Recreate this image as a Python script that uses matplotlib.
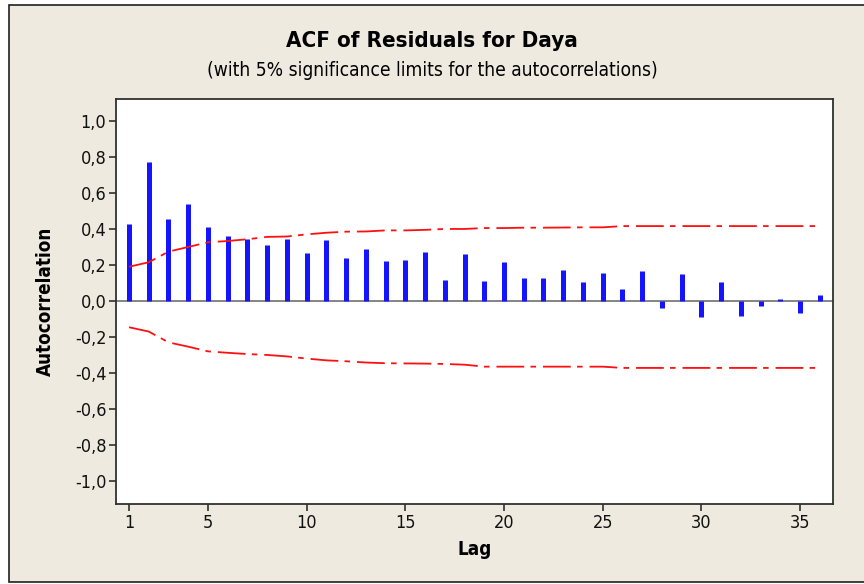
import numpy as np
import matplotlib.pyplot as plt
from matplotlib.patches import Rectangle

plt.rcParams['font.family'] = 'DejaVu Sans'
plt.rcParams['font.stretch'] = 'condensed'
plt.rcParams['lines.scale_dashes'] = False

# autocorrelation of the residuals, lags 1..36
lags = list(range(1, 37))
acf = [0.43, 0.77, 0.456, 0.54, 0.41, 0.36, 0.343, 0.31, 0.344, 0.267, 0.34, 0.239,
       0.289, 0.22, 0.229, 0.27, 0.117, 0.259, 0.109, 0.217, 0.13, 0.13, 0.17, 0.106,
       0.154, 0.068, 0.168, -0.04, 0.15, -0.09, 0.107, -0.085, -0.028, 0.012, -0.068, 0.035]

# 5% significance limits
upper = [0.19, 0.215, 0.274, 0.30, 0.326, 0.333, 0.343, 0.356, 0.358, 0.37, 0.379, 0.385,
         0.386, 0.392, 0.392, 0.395, 0.40, 0.40, 0.405, 0.405, 0.407, 0.407, 0.408, 0.409,
         0.409, 0.416, 0.416, 0.416, 0.416, 0.416, 0.416, 0.416, 0.416, 0.416, 0.416, 0.416]
lower = [-0.146, -0.17, -0.23, -0.254, -0.28, -0.288, -0.295, -0.30, -0.308, -0.32, -0.33, -0.335,
         -0.342, -0.346, -0.347, -0.348, -0.35, -0.354, -0.365, -0.365, -0.365, -0.365, -0.365, -0.365,
         -0.365, -0.372, -0.372, -0.372, -0.372, -0.372, -0.372, -0.372, -0.372, -0.372, -0.372, -0.372]

xticks = [1, 5, 10, 15, 20, 25, 30, 35]
yticks = np.round(np.arange(-1.0, 1.01, 0.2), 1)
ytick_labels = [("%.1f" % v).replace(".", ",").replace("-0,0", "0,0") for v in yticks]

fig = plt.figure(figsize=(8.64, 5.84), dpi=100, facecolor='white')

# beige panel with a thin dark frame
fig.patches.append(Rectangle((9 / 864, 2 / 584), 1.0, 577 / 584, transform=fig.transFigure,
                             facecolor='#eeeae0', edgecolor='#202020', linewidth=1.2, zorder=-1))

ax = fig.add_axes([116 / 864, 1 - 504 / 584, 717 / 864, 405 / 584])
ax.set_facecolor('white')

ax.axhline(0, color='#707070', linewidth=1.2, zorder=1)
ax.vlines(lags, 0, acf, colors='#1414ff', linewidth=3.6, capstyle='butt', zorder=2)
ax.plot(lags, upper, color='#ff1010', linewidth=1.3, dashes=(20, 4.5, 4, 5), zorder=3)
ax.plot(lags, lower, color='#ff1010', linewidth=1.3, dashes=(20, 4.5, 4, 5), zorder=3)

ax.set_xlim(0.34, 36.67)
ax.set_ylim(-1.128, 1.122)
ax.set_xticks(xticks)
ax.set_yticks(yticks)
ax.set_yticklabels(ytick_labels)
ax.tick_params(axis='both', direction='out', length=5, width=1.2, color='#303030',
               labelsize=13, labelcolor='#111111', pad=2)
for s in ax.spines.values():
    s.set_color('#303030')
    s.set_linewidth(1.3)

ax.set_xlabel('Lag', fontsize=13.5, fontweight='bold', labelpad=6)
ax.set_ylabel('Autocorrelation', fontsize=13.5, fontweight='bold', labelpad=14)

fig.text(0.5, 1 - 41 / 584, 'ACF of Residuals for Daya', ha='center', va='center',
         fontsize=16, fontweight='bold')
fig.text(0.5, 1 - 70 / 584, '(with 5% significance limits for the autocorrelations)',
         ha='center', va='center', fontsize=13.8)

fig.savefig('out.png', dpi=100, facecolor=fig.get_facecolor())
plt.close()
